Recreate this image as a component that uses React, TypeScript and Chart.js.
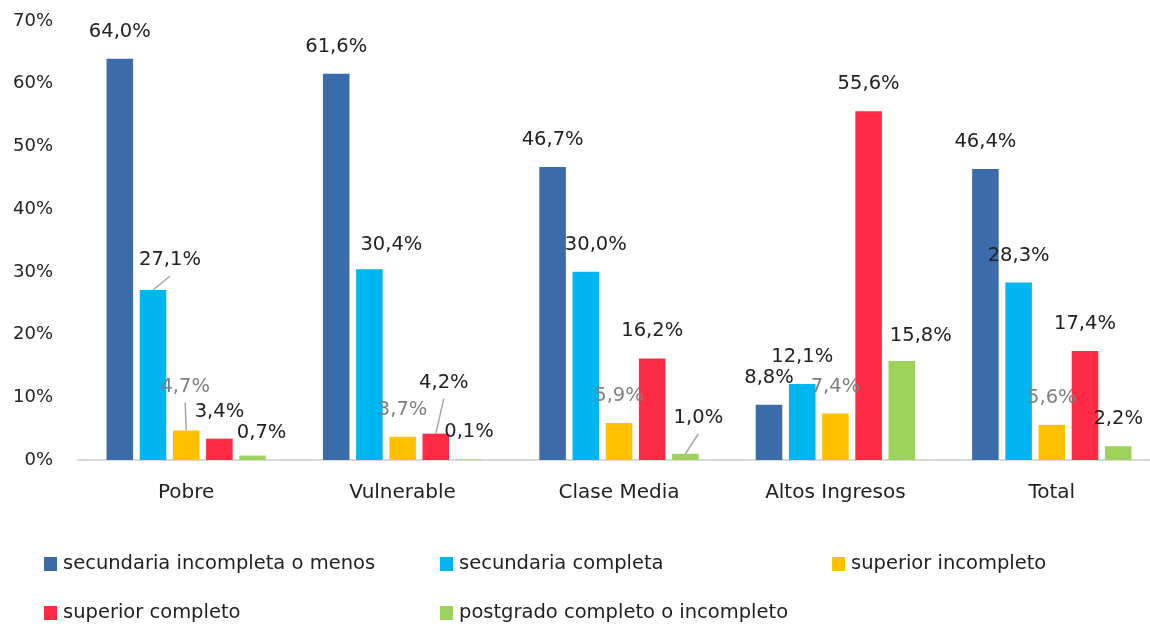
import React, { useEffect, useRef } from 'react';
import { Chart, registerables } from 'chart.js';

Chart.register(...registerables);

// ---- Data ----
const categories = ['Pobre', 'Vulnerable', 'Clase Media', 'Altos Ingresos', 'Total'];
const seriesNames = [
  'secundaria incompleta o menos',
  'secundaria completa',
  'superior incompleto',
  'superior completo',
  'postgrado completo o incompleto',
];
const secundariaIncompleta = [64.0, 61.6, 46.7, 8.8, 46.4];
const secundariaCompleta = [27.1, 30.4, 30.0, 12.1, 28.3];
const superiorIncompleto = [4.7, 3.7, 5.9, 7.4, 5.6];
const superiorCompleto = [3.4, 4.2, 16.2, 55.6, 17.4];
const postgrado = [0.7, 0.1, 1.0, 15.8, 2.2];
const yMin = 0;
const yMax = 70;
const yStep = 10;

// ---- Styles ----
const seriesColors = ['#3C6BAC', '#00B6F0', '#FFC000', '#FF2B45', '#9DD35C'];
const labelColors = ['#222222', '#222222', '#7F7F7F', '#222222', '#222222'];
const FONT = 'DejaVu Sans';
const TEXT = '#222222';

// manual label adjustments (dataset-index -> offsets), like moved labels in the source
const labelAdjust: Record<string, { dx: number; dy: number; leader?: boolean }> = {
  '1-0': { dx: 17, dy: -30, leader: true },
  '2-0': { dx: -1, dy: -44, leader: true },
  '4-0': { dx: 9, dy: -23 },
  '1-1': { dx: 22, dy: -24 },
  '3-1': { dx: 8, dy: -51, leader: true },
  '1-2': { dx: 10, dy: -27 },
  '4-2': { dx: 13, dy: -36, leader: true },
  '4-3': { dx: 19, dy: -25 },
};

const fmt = (v: number) => v.toFixed(1).replace('.', ',') + '%';

const dataLabelPlugin = {
  id: 'dataLabels',
  afterDatasetsDraw(chart: any) {
    const ctx = chart.ctx;
    ctx.save();
    ctx.font = `19.5px "${FONT}"`;
    ctx.textAlign = 'center';
    ctx.textBaseline = 'middle';
    chart.data.datasets.forEach((ds: any, di: number) => {
      const meta = chart.getDatasetMeta(di);
      meta.data.forEach((el: any, i: number) => {
        const adj = labelAdjust[`${di}-${i}`] || { dx: 0, dy: -27 };
        const lx = el.x + adj.dx;
        const ly = el.y + adj.dy;
        if (adj.leader) {
          ctx.strokeStyle = '#A6A6A6';
          ctx.lineWidth = 1.5;
          ctx.beginPath();
          ctx.moveTo(el.x, el.y);
          ctx.lineTo(lx, ly + 16);
          ctx.stroke();
        }
        ctx.fillStyle = labelColors[di];
        ctx.fillText(fmt(ds.data[i]), lx, ly);
      });
    });
    ctx.restore();
  },
};

const legendCols = [44, 440, 832];
const legendRows = [564, 613];

const legendPlugin = {
  id: 'gridLegend',
  afterDraw(chart: any) {
    const ctx = chart.ctx;
    ctx.save();
    ctx.font = `19.5px "${FONT}"`;
    ctx.textAlign = 'left';
    ctx.textBaseline = 'middle';
    seriesNames.forEach((name, k) => {
      const x = legendCols[k % 3];
      const y = legendRows[Math.floor(k / 3)];
      ctx.fillStyle = seriesColors[k];
      ctx.fillRect(x, y - 7, 13, 14);
      ctx.fillStyle = TEXT;
      ctx.fillText(name, x + 19, y);
    });
    ctx.restore();
  },
};

export default function App() {
  const ref = useRef<HTMLCanvasElement | null>(null);

  useEffect(() => {
    document.body.style.margin = '0';
    document.body.style.overflow = 'hidden';
    const canvas = ref.current;
    if (!canvas) return;
    const seriesValues = [secundariaIncompleta, secundariaCompleta, superiorIncompleto, superiorCompleto, postgrado];
    const chart = new Chart(canvas, {
      type: 'bar',
      data: {
        labels: categories,
        datasets: seriesNames.map((name, k) => ({
          label: name,
          data: seriesValues[k],
          backgroundColor: seriesColors[k],
          borderWidth: 0,
          categoryPercentage: 0.767,
          barPercentage: 0.8,
        })),
      },
      options: {
        responsive: false,
        animation: false,
        devicePixelRatio: 1,
        layout: { padding: { top: 21, right: 2, left: 0, bottom: 0 } },
        plugins: { legend: { display: false }, tooltip: { enabled: false } },
        scales: {
          x: {
            grid: { display: false, drawTicks: false },
            border: { display: true, color: '#D9D9D9', width: 2 },
            ticks: { font: { family: FONT, size: 20 }, color: TEXT, padding: 21 },
            afterFit: (s: any) => {
              s.height = 164;
            },
          },
          y: {
            min: yMin,
            max: yMax,
            grid: { display: false, drawTicks: false },
            border: { display: false },
            ticks: {
              stepSize: yStep,
              font: { family: FONT, size: 18 },
              color: TEXT,
              padding: 25,
              callback: (v: any) => v + '%',
            },
            afterFit: (s: any) => {
              s.width = 78;
              s.paddingTop = 0;
              s.paddingBottom = 0;
            },
          },
        },
      },
      plugins: [dataLabelPlugin, legendPlugin],
    });
    return () => chart.destroy();
  }, []);

  return (
    <div style={{ position: 'fixed', left: 0, top: 0, width: 1162, height: 624, background: '#fff' }}>
      <canvas ref={ref} width={1162} height={624} />
    </div>
  );
}
